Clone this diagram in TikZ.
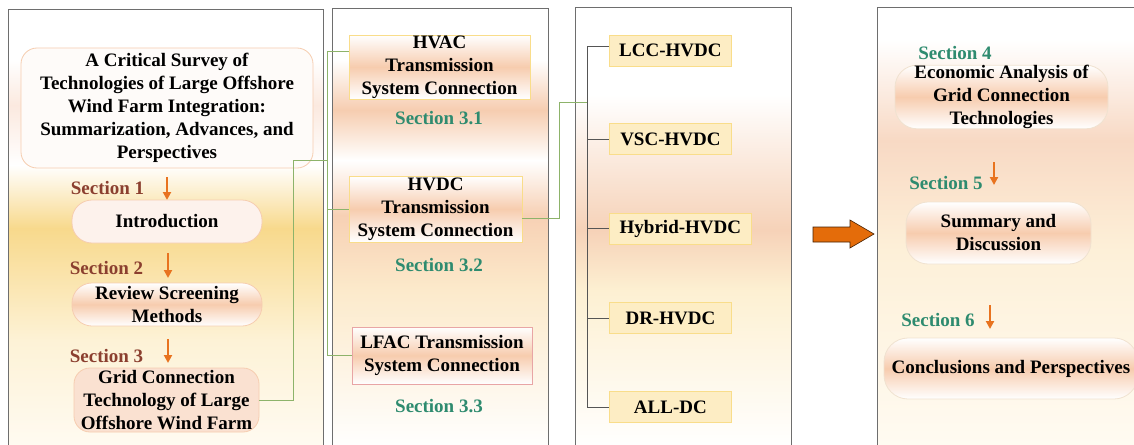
\documentclass[tikz,border=0pt]{standalone}
\usepackage{fontspec}
\setmainfont{Liberation Serif}
\usetikzlibrary{arrows.meta,calc}
\definecolor{pborder}{HTML}{6E6E6E}
\definecolor{peachA}{HTML}{FBE9DF}
\definecolor{yelA}{HTML}{F8D98C}
\definecolor{yelB}{HTML}{FDF2D6}
\definecolor{creamA}{HTML}{FFFBF2}
\definecolor{peachB}{HTML}{F6CDB0}
\definecolor{peachC}{HTML}{F7D0B4}
\definecolor{yelC}{HTML}{FCEACB}
\definecolor{peachD}{HTML}{F6D2B8}
\definecolor{yelD}{HTML}{FDF0D2}
\definecolor{peachE}{HTML}{F8D9C4}
\definecolor{yelE}{HTML}{FDF0D8}
\definecolor{bandpeach}{HTML}{F7CCAE}
\definecolor{boxline}{HTML}{F6CDB0}
\definecolor{yline}{HTML}{F9DD8A}
\definecolor{yfill}{HTML}{FDEDC4}
\definecolor{pinkline}{HTML}{E8A5A5}
\definecolor{lightline}{HTML}{F0E2D0}
\definecolor{secbrown}{HTML}{8B3F2F}
\definecolor{secteal}{HTML}{2E8B6F}
\definecolor{conn}{HTML}{8DB36A}
\definecolor{treegray}{HTML}{555555}
\definecolor{arrorange}{HTML}{E8731F}
\definecolor{bigorange}{HTML}{E46C0A}
\pgfdeclareverticalshading{boxband}{100bp}{color(0bp)=(white); color(25bp)=(white); color(50bp)=(bandpeach); color(75bp)=(white); color(100bp)=(white)}
\newcommand\pband[6]{\fill[top color=#5,bottom color=#6,draw=none] (#1,#3) rectangle (#2,#4);}
\tikzset{
  txt/.style={font=\fontsize{19}{23}\selectfont\bfseries, align=center, inner sep=0pt},
  panel/.style={draw=pborder, line width=1pt},
  rbox/.style={txt, rounded corners=16pt, line width=0.8pt},
  sbox/.style={txt, line width=0.8pt},
  secA/.style={txt, text=secbrown},
  secB/.style={txt, text=secteal},
  downarr/.style={draw=arrorange, line width=2.2pt, -{Triangle[width=8pt,length=8pt]}},
  gconn/.style={draw=conn, line width=1pt},
  tconn/.style={draw=treegray, line width=1pt},
  dcbox/.style={sbox, draw=yline, fill=yfill, minimum height=31pt, anchor=west}
}
\begin{document}
\begin{tikzpicture}[x=1pt,y=-1pt]
\useasboundingbox (0,0) rectangle (1134,444);
% panel 1 background
\pband{8}{323}{10}{60.5}{white}{white}
\pband{8}{323}{60}{105.5}{white}{peachA}
\pband{8}{323}{105}{165.5}{peachA}{white}
\pband{8}{323}{165}{228.5}{white}{yelA}
\pband{8}{323}{228}{340.5}{yelA}{yelB}
\pband{8}{323}{340}{450}{yelB}{creamA}
\draw[panel] (8,450) -- (8,10) -- (323,10) -- (323,450);
% panel 2 background
\pband{332}{548}{9}{60.5}{white}{white}
\pband{332}{548}{60}{110.5}{white}{peachB}
\pband{332}{548}{110}{160.5}{peachB}{white}
\pband{332}{548}{160}{215.5}{white}{peachC}
\pband{332}{548}{215}{290.5}{peachC}{yelC}
\pband{332}{548}{290}{450}{yelC}{white}
\draw[panel] (332,450) -- (332,9) -- (548,9) -- (548,450);
% panel 3 background
\pband{575}{791}{8}{95.5}{white}{white}
\pband{575}{791}{95}{230.5}{white}{peachD}
\pband{575}{791}{230}{290.5}{peachD}{yelD}
\pband{575}{791}{290}{450}{yelD}{white}
\draw[panel] (575,450) -- (575,8) -- (791,8) -- (791,450);
% panel 4 background
\pband{877}{1140}{8}{40.5}{white}{white}
\pband{877}{1140}{40}{140.5}{white}{peachE}
\pband{877}{1140}{140}{250.5}{peachE}{yelE}
\pband{877}{1140}{250}{450}{yelE}{creamA}
\draw[panel] (877,450) -- (877,8) -- (1140,8);

% panel 1 nodes
\node[rbox, draw=boxline, fill=white!80!peachA, minimum width=292pt, minimum height=120pt] (title) at (167,108)
  {A Critical Survey of\\Technologies of Large Offshore\\Wind Farm Integration:\\Summarization, Advances, and\\Perspectives};
\node[secA] (s1) at (107.5,188) {Section 1};
\coordinate (a1s) at (167,177); \coordinate (a1e) at (167,200);
\draw[downarr] (a1s) -- (a1e);
\node[rbox, rounded corners=20pt, draw=boxline, fill=peachA!60!white, minimum width=190pt, minimum height=43pt] (intro) at (167,221.5) {Introduction};
\node[secA] (s2) at (106.5,268) {Section 2};
\coordinate (a2s) at (168,253); \coordinate (a2e) at (168,278);
\draw[downarr] (a2s) -- (a2e);
\node[rbox, rounded corners=20pt, draw=boxline, shading=boxband, minimum width=190pt, minimum height=43pt] (review) at (167,304.5) {Review Screening\\Methods};
\node[secA] (s3) at (106.5,356) {Section 3};
\coordinate (a3s) at (168,339); \coordinate (a3e) at (168,363);
\draw[downarr] (a3s) -- (a3e);
\node[rbox, draw=boxline, fill=peachA!70!peachB, minimum width=185pt, minimum height=64pt] (grid) at (166.5,400) {Grid Connection\\Technology of Large\\Offshore Wind Farm};

% panel 2 nodes
\node[sbox, draw=yline, shading=boxband, minimum width=181pt, minimum height=64pt] (hvac) at (439.5,67) {HVAC\\Transmission\\System Connection};
\node[secB] (s31) at (439,118) {Section 3.1};
\node[sbox, draw=yline, shading=boxband, minimum width=173pt, minimum height=66pt] (hvdc) at (435.5,209) {HVDC\\Transmission\\System Connection};
\node[secB] (s32) at (439,265) {Section 3.2};
\node[sbox, draw=pinkline, shading=boxband, minimum width=180pt, minimum height=57pt] (lfac) at (442,355.5) {LFAC Transmission\\System Connection};
\node[secB] (s33) at (439,406) {Section 3.3};

% panel 3 nodes
\node[dcbox, minimum width=122pt] (lcc) at (609,50.5) {LCC-HVDC};
\node[dcbox, minimum width=122pt] (vsc) at (609,139) {VSC-HVDC};
\node[dcbox, minimum width=142pt] (hyb) at (609,228.5) {Hybrid-HVDC};
\node[dcbox, minimum width=122pt] (dr) at (609,318) {DR-HVDC};
\node[dcbox, minimum width=122pt] (alldc) at (609,407) {ALL-DC};

% panel 4 nodes
\node[secB] (s4) at (955,53) {Section 4};
\node[rbox, rounded corners=22pt, draw=lightline, shading=boxband, minimum width=213pt, minimum height=62pt] (econ) at (1001.5,97) {Economic Analysis of\\Grid Connection\\Technologies};
\node[secB] (s5) at (946,183) {Section 5};
\coordinate (a5s) at (994,162); \coordinate (a5e) at (994,185);
\draw[downarr] (a5s) -- (a5e);
\node[rbox, rounded corners=22pt, draw=lightline, shading=boxband, minimum width=185pt, minimum height=62pt] (summ) at (998.5,233) {Summary and\\Discussion};
\node[secB] (s6) at (938,320) {Section 6};
\coordinate (a6s) at (990,305); \coordinate (a6e) at (990,329);
\draw[downarr] (a6s) -- (a6e);
\node[rbox, rounded corners=24pt, draw=lightline, shading=boxband, minimum width=254pt, minimum height=61pt] (concl) at (1011,368.5) {Conclusions and Perspectives};

% big arrow
\fill[bigorange, draw=black!70!bigorange, line width=0.6pt]
  (813,227) -- (850,227) -- (850,220) -- (874,234) -- (850,248) -- (850,242) -- (813,242) -- cycle;

% green connectors
\coordinate (g1) at (293,160);
\coordinate (b2top) at (327,52);
\coordinate (b2mid) at (327,160);
\coordinate (b2bot) at (327,355.5);
\draw[gconn] (grid.east) -| (g1) -- (b2mid);
\draw[gconn] (b2top) -- (b2bot);
\draw[gconn] (b2top) -- (b2top -| hvac.west);
\draw[gconn] (hvdc.west -| b2top) -- (hvdc.west);
\draw[gconn] (b2bot) -- (lfac.west);
\coordinate (h1) at ($(hvdc.east)+(0,9)$);
\coordinate (h2) at (559,102);
\coordinate (b3mid) at (587,102);
\draw[gconn] (h1) -| (h2) -- (b3mid);

% gray tree
\coordinate (b3top) at (587,47);
\coordinate (b3bot) at (587,407);
\draw[tconn] (b3top) -- (b3bot);
\draw[tconn] (b3top) -- (b3top -| lcc.west);
\draw[tconn] (vsc.west -| b3top) -- (vsc.west);
\draw[tconn] (hyb.west -| b3top) -- (hyb.west);
\draw[tconn] (dr.west -| b3top) -- (dr.west);
\draw[tconn] (b3bot) -- (alldc.west);
\end{tikzpicture}
\end{document}
